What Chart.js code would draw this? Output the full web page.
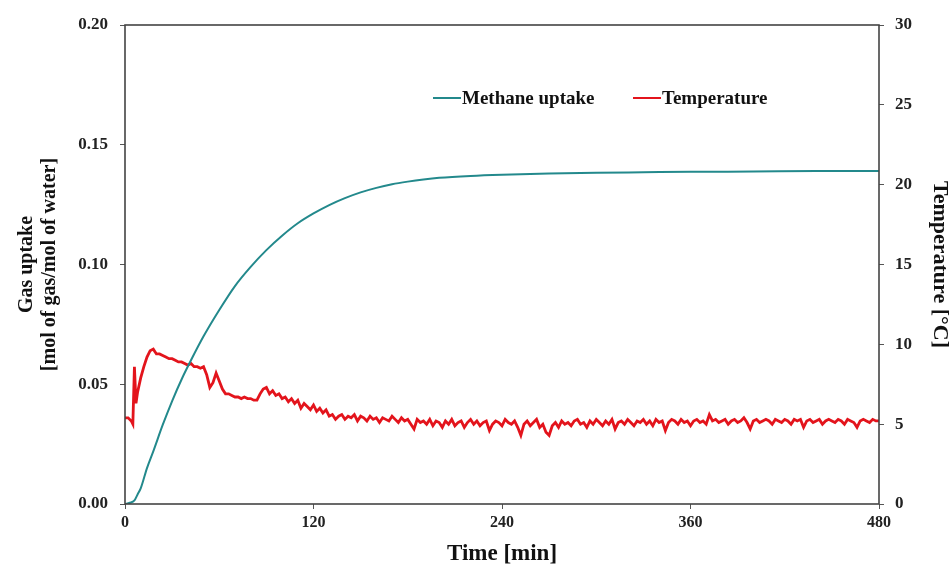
<!DOCTYPE html>
<html>
<head>
<meta charset="utf-8">
<script src="https://cdn.jsdelivr.net/npm/chart.js@4"></script>
<style>
  body { margin: 0; background: #fff; }
  #wrap { width: 950px; height: 572px; }
</style>
</head>
<body>
<div id="wrap"><canvas id="chart" width="950" height="572"></canvas></div>
<script>
// Methane uptake (mol gas / mol water) vs time (min)
const uptakeTime = [0, 3, 6, 8, 10, 14, 18, 24, 30, 36, 42, 50, 60, 70, 80, 90, 100, 110, 120, 130, 140, 150, 160, 170, 180, 190, 200, 220, 240, 270, 300, 330, 360, 400, 440, 480];
const uptakeValues = [0, 0.0005, 0.0015, 0.004, 0.0065, 0.015, 0.022, 0.033, 0.043, 0.052, 0.060, 0.070, 0.081, 0.091, 0.099, 0.106, 0.112, 0.1172, 0.1213, 0.1248, 0.1277, 0.1301, 0.132, 0.1335, 0.1346, 0.1355, 0.1362, 0.137, 0.1375, 0.138, 0.1383, 0.1385, 0.1387, 0.1388, 0.139, 0.139];

// Temperature (°C) vs time (min)
const tempTime = [0, 2, 4, 5, 6, 7,
  8, 10, 12, 14, 16, 18, 20, 22, 24, 26,
  28, 30, 32, 34, 36, 38, 40, 42, 44, 46,
  48, 50, 52, 54, 56, 58, 60, 62, 64, 66,
  68, 70, 72, 74, 76, 78, 80, 82, 84, 86,
  88, 90, 92, 94, 96, 98, 100, 102, 104, 106,
  108, 110, 112, 114, 116, 118, 120, 122, 124, 126,
  128, 130, 132, 134, 136, 138, 140, 142, 144, 146,
  148, 150, 152, 154, 156, 158, 160, 162, 164, 166,
  168, 170, 172, 174, 176, 178, 180, 182, 184, 186,
  188, 190, 192, 194, 196, 198, 200, 202, 204, 206,
  208, 210, 212, 214, 216, 218, 220, 222, 224, 226,
  228, 230, 232, 234, 236, 238, 240, 242, 244, 246,
  248, 250, 252, 254, 256, 258, 260, 262, 264, 266,
  268, 270, 272, 274, 276, 278, 280, 282, 284, 286,
  288, 290, 292, 294, 296, 298, 300, 302, 304, 306,
  308, 310, 312, 314, 316, 318, 320, 322, 324, 326,
  328, 330, 332, 334, 336, 338, 340, 342, 344, 346,
  348, 350, 352, 354, 356, 358, 360, 362, 364, 366,
  368, 370, 372, 374, 376, 378, 380, 382, 384, 386,
  388, 390, 392, 394, 396, 398, 400, 402, 404, 406,
  408, 410, 412, 414, 416, 418, 420, 422, 424, 426,
  428, 430, 432, 434, 436, 438, 440, 442, 444, 446,
  448, 450, 452, 454, 456, 458, 460, 462, 464, 466,
  468, 470, 472, 474, 476, 478, 480];
const tempValues = [5.4, 5.4, 5.2, 5.0, 8.6, 6.3,
  7.0, 7.9, 8.6, 9.2, 9.6, 9.7, 9.4, 9.4, 9.3, 9.2,
  9.1, 9.1, 9.0, 8.9, 8.9, 8.8, 8.7, 8.8, 8.6, 8.6,
  8.5, 8.6, 8.1, 7.3, 7.6, 8.2, 7.7, 7.2, 6.9, 6.9,
  6.8, 6.7, 6.7, 6.6, 6.7, 6.6, 6.6, 6.5, 6.5, 6.9,
  7.2, 7.3, 6.9, 7.1, 6.8, 6.9, 6.6, 6.7, 6.4, 6.6,
  6.3, 6.5, 6.0, 6.3, 6.1, 5.9, 6.2, 5.8, 6.0, 5.7,
  5.9, 5.5, 5.6, 5.3, 5.5, 5.6, 5.3, 5.5, 5.4, 5.6,
  5.2, 5.5, 5.4, 5.2, 5.5, 5.3, 5.4, 5.1, 5.4, 5.3,
  5.2, 5.5, 5.3, 5.1, 5.4, 5.2, 5.3, 5.0, 4.7, 5.3,
  5.1, 5.2, 5.0, 5.3, 4.9, 5.2, 5.1, 4.8, 5.2, 5.0,
  5.3, 4.9, 5.1, 5.2, 4.8, 5.1, 5.3, 5.0, 5.2, 4.9,
  5.1, 5.2, 4.6, 5.0, 5.2, 5.1, 4.9, 5.3, 5.1, 5.0,
  5.2, 4.8, 4.3, 5.0, 5.2, 4.9, 5.1, 5.3, 4.8, 5.0,
  4.5, 4.3, 4.9, 5.1, 4.8, 5.2, 5.0, 5.1, 4.9, 5.2,
  5.3, 5.0, 5.1, 4.8, 5.2, 5.0, 5.3, 5.1, 4.9, 5.2,
  5.0, 5.3, 4.7, 5.1, 5.2, 5.0, 5.3, 5.1, 4.9, 5.2,
  5.1, 5.3, 5.0, 5.2, 4.9, 5.3, 5.1, 5.2, 4.6, 5.1,
  5.3, 5.2, 5.0, 5.3, 5.1, 5.2, 4.9, 5.2, 5.3, 5.1,
  5.2, 5.0, 5.6, 5.2, 5.3, 5.1, 5.2, 5.3, 5.0, 5.2,
  5.3, 5.1, 5.2, 5.4, 5.1, 4.7, 5.2, 5.3, 5.1, 5.2,
  5.3, 5.2, 5.0, 5.3, 5.2, 5.1, 5.3, 5.2, 5.0, 5.3,
  5.2, 5.3, 4.8, 5.2, 5.3, 5.1, 5.2, 5.3, 5.0, 5.2,
  5.3, 5.2, 5.1, 5.3, 5.2, 5.0, 5.3, 5.2, 5.1, 4.8,
  5.2, 5.3, 5.2, 5.1, 5.3, 5.2, 5.2];

const xTicks = [0, 120, 240, 360, 480];
const seriesNames = ['Methane uptake', 'Temperature'];
const seriesColors = ['#23898c', '#e3141c'];

const serif = '"Liberation Serif", "Times New Roman", serif';
Chart.defaults.font.family = serif;
Chart.defaults.color = '#222';

// box round the plot area
const frame = {
  id: 'frame',
  afterDatasetsDraw(chart) {
    const { ctx, chartArea: a } = chart;
    ctx.save();
    ctx.strokeStyle = '#444';
    ctx.lineWidth = 1.6;
    ctx.strokeRect(a.left, a.top, a.right - a.left, a.bottom - a.top);
    ctx.restore();
  }
};

// legend inside the plot, like the original
const innerLegend = {
  id: 'innerLegend',
  afterDraw(chart) {
    const ctx = chart.ctx;
    const spots = [433, 633];
    ctx.save();
    ctx.font = 'bold 19px ' + serif;
    ctx.textBaseline = 'middle';
    chart.data.datasets.forEach((ds, i) => {
      const x = spots[i], y = 98;
      ctx.strokeStyle = ds.borderColor;
      ctx.lineWidth = 2;
      ctx.beginPath();
      ctx.moveTo(x, y);
      ctx.lineTo(x + 28, y);
      ctx.stroke();
      ctx.fillStyle = '#111';
      ctx.fillText(ds.label, x + 29, y + 1);
    });
    ctx.restore();
  }
};

new Chart(document.getElementById('chart'), {
  type: 'line',
  data: {
    datasets: [
      {
        label: seriesNames[0],
        data: uptakeTime.map((t, i) => ({ x: t, y: uptakeValues[i] })),
        borderColor: seriesColors[0],
        borderWidth: 2,
        pointRadius: 0,
        cubicInterpolationMode: 'monotone',
        yAxisID: 'y'
      },
      {
        label: seriesNames[1],
        data: tempTime.map((t, i) => ({ x: t, y: tempValues[i] })),
        borderColor: seriesColors[1],
        borderWidth: 2.8,
        pointRadius: 0,
        tension: 0,
        yAxisID: 'y1'
      }
    ]
  },
  options: {
    responsive: false,
    animation: false,
    layout: { padding: { top: 25, left: 0, right: 0, bottom: 0 } },
    plugins: { legend: { display: false }, tooltip: { enabled: false } },
    scales: {
      x: {
        type: 'linear',
        min: 0,
        max: 480,
        afterBuildTicks: s => { s.ticks = xTicks.map(v => ({ value: v })); },
        afterFit: s => { s.height = 68; },
        grid: { drawOnChartArea: false, tickLength: 5, color: '#555' },
        border: { display: false },
        ticks: { padding: 4, font: { size: 16, weight: 'bold' }, color: '#222', maxRotation: 0 },
        title: {
          display: true, text: 'Time [min]',
          font: { size: 23, weight: 'bold', lineHeight: 1 }, color: '#111',
          padding: { top: 0, bottom: 6 }
        }
      },
      y: {
        position: 'left',
        min: 0,
        max: 0.2,
        afterFit: s => { s.width = 125; },
        grid: { drawOnChartArea: false, tickLength: 5, color: '#555' },
        border: { display: false },
        ticks: { stepSize: 0.05, padding: 12, font: { size: 17, weight: 'bold' }, color: '#222',
          callback: v => v.toFixed(2) },
        title: {
          display: true, text: ['Gas uptake', '[mol of gas/mol of water]'],
          font: { size: 20, weight: 'bold', lineHeight: 1.15 }, color: '#111',
          padding: { top: 15, bottom: 0 }
        }
      },
      y1: {
        position: 'right',
        min: 0,
        max: 30,
        afterFit: s => { s.width = 71; },
        grid: { drawOnChartArea: false, tickLength: 5, color: '#555' },
        border: { display: false },
        ticks: { stepSize: 5, padding: 11, font: { size: 17, weight: 'bold' }, color: '#222' },
        title: {
          display: true, text: 'Temperature [°C]',
          font: { size: 22, weight: 'bold', lineHeight: 0.9 }, color: '#111',
          padding: { top: 0, bottom: 0 }
        }
      }
    }
  },
  plugins: [frame, innerLegend]
});
</script>
</body>
</html>
